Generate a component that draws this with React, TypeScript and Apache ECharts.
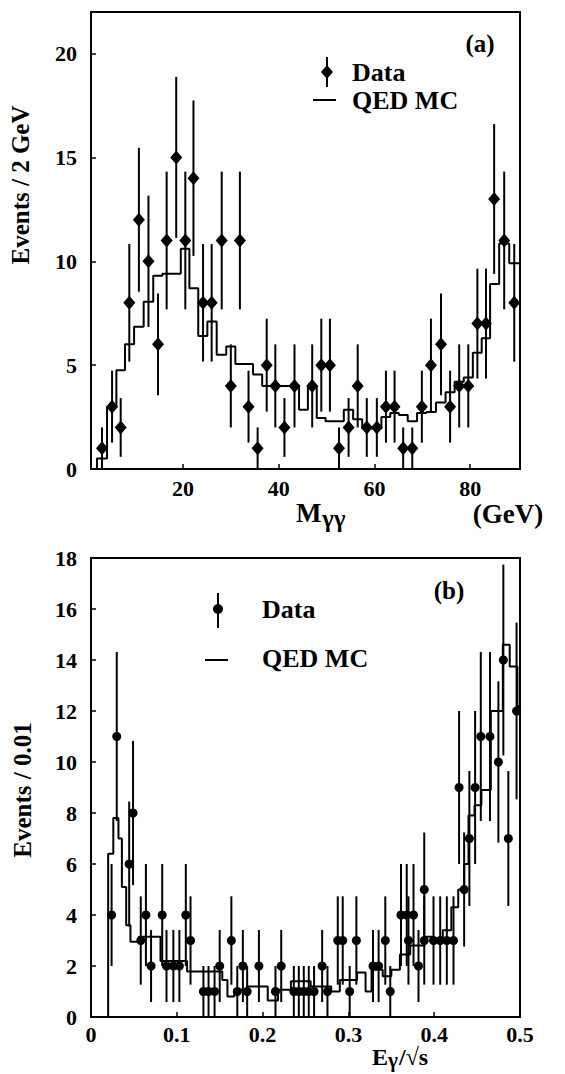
import React, { useEffect, useRef } from "react";
import * as echarts from "echarts";

// ---- Panel (a): M_gammagamma ----
const A_X = [3.1, 5.2, 7.0, 8.8, 10.8, 12.8, 14.8, 16.6, 18.6, 20.5, 22.2, 24.2, 26.0, 28.1, 30.0, 31.9, 33.7, 35.6, 37.5, 39.3, 41.2, 43.3, 45.2, 47.0, 48.9, 50.7, 52.6, 54.6, 56.5, 58.4, 60.5, 62.4, 64.2, 66.0, 67.9, 69.9, 71.8, 73.9, 75.8, 77.7, 79.6, 81.5, 83.3, 85.0, 87.1, 89.2];
const A_DATA: (number | null)[] = [1, 3, 2, 8, 12, 10, 6, 11, 15, 11, 14, 8, 8, 11, 4, 11, 3, 1, 5, 4, 2, 4, null, 4, 5, 5, 1, 2, 4, 2, 2, 3, 3, 1, 1, 3, 5, 6, 3, 4, 4, 7, 7, 13, 11, 8];
const A_MC = [0.5, 3.0, 4.75, 6.0, 6.85, 8.05, 9.3, 9.4, 9.4, 10.6, 8.7, 6.4, 7.1, 5.5, 5.9, 5.05, 5.05, 4.55, 4.0, 4.0, 4.0, 4.0, 2.85, 4.0, 2.45, 2.3, 2.3, 2.85, 2.4, 1.95, 1.95, 2.5, 2.7, 2.6, 2.3, 2.7, 2.75, 3.2, 3.7, 4.2, 4.4, 5.6, 6.3, 8.9, 10.85, 9.9];
const A_X_TICKS = [20, 40, 60, 80];
const A_Y_TICKS = [0, 5, 10, 15, 20];

// ---- Panel (b): E_gamma / sqrt(s) ----
const B_X = [0.024, 0.030, 0.0445, 0.049, 0.058, 0.064, 0.070, 0.083, 0.088, 0.096, 0.103, 0.1105, 0.116, 0.131, 0.137, 0.144, 0.150, 0.1636, 0.1705, 0.177, 0.182, 0.1957, 0.215, 0.2217, 0.2364, 0.2422, 0.248, 0.2538, 0.260, 0.2694, 0.2756, 0.2876, 0.2934, 0.3015, 0.3093, 0.3287, 0.3352, 0.343, 0.3488, 0.3613, 0.368, 0.370, 0.3759, 0.3817, 0.3884, 0.3884, 0.3992, 0.407, 0.4147, 0.4225, 0.429, 0.4349, 0.441, 0.4477, 0.4543, 0.465, 0.4748, 0.4806, 0.4864, 0.496];
const B_DATA = [4, 11, 6, 8, 3, 4, 2, 4, 2, 2, 2, 4, 3, 1, 1, 1, 2, 3, 1, 2, 1, 2, 1, 2, 1, 1, 1, 1, 1, 2, 1, 3, 3, 1, 3, 2, 2, 3, 1, 4, 4, 3, 4, 2, 5, 3, 3, 3, 3, 3, 9, 5, 7, 9, 11, 11, 10, 14, 7, 12];
const B_MC_EDGES = [0.020, 0.026, 0.032, 0.036, 0.041, 0.046, 0.056, 0.081, 0.112, 0.153, 0.159, 0.167, 0.182, 0.206, 0.218, 0.233, 0.256, 0.280, 0.290, 0.310, 0.320, 0.327, 0.340, 0.350, 0.360, 0.372, 0.388, 0.400, 0.410, 0.420, 0.428, 0.435, 0.440, 0.447, 0.455, 0.466, 0.480, 0.488, 0.497, 0.500];
const B_MC = [6.4, 7.8, 7.0, 5.1, 3.6, 2.95, 3.15, 2.2, 1.78, 1.45, 0.8, 1.07, 1.2, 0.65, 1.07, 1.4, 1.2, 1.0, 1.45, 1.75, 1.0, 1.85, 1.6, 1.85, 2.45, 2.8, 3.15, 3.0, 3.4, 4.3, 5.0, 6.0, 7.9, 8.3, 8.9, 12.0, 14.6, 13.75, 12.2];

const FONT = "'Liberation Serif', 'DejaVu Serif', serif";

function edgesFromCenters(c: number[]): number[] {
  const e: number[] = [c[0] - (c[1] - c[0]) / 2];
  for (let i = 1; i < c.length; i++) e.push((c[i - 1] + c[i]) / 2);
  e.push(c[c.length - 1] + (c[c.length - 1] - c[c.length - 2]) / 2);
  return e;
}
function stepData(edges: number[], vals: number[]) {
  const d: number[][] = [[edges[0], 0]];
  vals.forEach((v, i) => d.push([edges[i], v]));
  d.push([edges[edges.length - 1], vals[vals.length - 1]]);
  return d;
}
function pts(xs: number[], ys: (number | null)[]) {
  const out: number[][] = [];
  xs.forEach((x, i) => {
    const y = ys[i];
    if (y !== null && y !== undefined) out.push([x, y, Math.sqrt(y)]);
  });
  return out;
}

const errRender = (params: any, api: any) => {
  const x = api.value(0), y = api.value(1), e = api.value(2);
  const p1 = api.coord([x, Math.max(0, y - e)]);
  const p2 = api.coord([x, y + e]);
  return {
    type: "line",
    shape: { x1: p1[0], y1: p1[1], x2: p2[0], y2: p2[1] },
    style: { stroke: "#000", lineWidth: 2 },
  };
};

export default function App() {
  const ref = useRef<HTMLDivElement>(null);
  useEffect(() => {
    if (!ref.current) return;
    const chart = echarts.init(ref.current, null, { renderer: "svg" });
    const aPts = pts(A_X, A_DATA);
    const bPts = pts(B_X, B_DATA);
    const aStep = stepData(edgesFromCenters(A_X), A_MC);
    const bStep = stepData(B_MC_EDGES, B_MC);
    const labelStyle = { fontFamily: FONT, fontSize: 22, fontWeight: "bold", color: "#000" };
    const tick = { show: true, inside: true, length: 5, lineStyle: { color: "#000", width: 1.5 } };
    const txt = (x: number, y: number, text: string, size: number, align = "left", extra: any = {}) => ({
      type: "text",
      x,
      y,
      style: { text, font: `bold ${size}px ${FONT}`, fill: "#000", align, verticalAlign: "middle" },
      ...extra,
    });
    chart.setOption({
      animation: false,
      backgroundColor: "#fff",
      grid: [
        { left: 91, right: 45, top: 12, height: 457, show: true, borderColor: "#000", borderWidth: 2 },
        { left: 91, right: 45, top: 558, height: 459, show: true, borderColor: "#000", borderWidth: 2 },
      ],
      xAxis: [
        {
          gridIndex: 0, type: "value", min: 0.8, max: 90.4,
          axisLine: { show: false }, splitLine: { show: false },
          axisTick: { ...tick, customValues: A_X_TICKS },
          axisLabel: { ...labelStyle, margin: 8, customValues: A_X_TICKS },
        },
        {
          gridIndex: 1, type: "value", min: 0, max: 0.5, interval: 0.1,
          axisLine: { show: false }, splitLine: { show: false },
          axisTick: tick,
          axisLabel: { ...labelStyle, margin: 6, formatter: (v: number) => (v === 0 ? "0" : String(Math.round(v * 10) / 10)) },
        },
      ],
      yAxis: [
        {
          gridIndex: 0, type: "value", min: 0, max: 22,
          axisLine: { show: false }, splitLine: { show: false },
          axisTick: { ...tick, customValues: A_Y_TICKS },
          axisLabel: { ...labelStyle, margin: 14, customValues: A_Y_TICKS },
        },
        {
          gridIndex: 1, type: "value", min: 0, max: 18, interval: 2,
          axisLine: { show: false }, splitLine: { show: false },
          axisTick: tick,
          axisLabel: { ...labelStyle, margin: 14 },
        },
      ],
      series: [
        {
          type: "line", xAxisIndex: 0, yAxisIndex: 0, data: aStep, step: "end",
          showSymbol: false, lineStyle: { color: "#000", width: 2 }, silent: true,
        },
        {
          type: "custom", xAxisIndex: 0, yAxisIndex: 0, data: aPts, renderItem: errRender,
        },
        {
          type: "scatter", xAxisIndex: 0, yAxisIndex: 0, data: aPts, symbol: "diamond",
          symbolSize: [12, 14], itemStyle: { color: "#000", opacity: 1 },
        },
        {
          type: "line", xAxisIndex: 1, yAxisIndex: 1, data: bStep, step: "end",
          showSymbol: false, lineStyle: { color: "#000", width: 2 }, silent: true,
        },
        {
          type: "custom", xAxisIndex: 1, yAxisIndex: 1, data: bPts, renderItem: errRender,
        },
        {
          type: "scatter", xAxisIndex: 1, yAxisIndex: 1, data: bPts, symbol: "circle",
          symbolSize: 9, itemStyle: { color: "#000", opacity: 1 },
        },
      ],
      graphic: [
        // panel (a)
        txt(20, 185, "Events / 2 GeV", 25, "center", { rotation: Math.PI / 2 }),
        txt(480, 43, "(a)", 25, "center"),
        { type: "line", shape: { x1: 327, y1: 57, x2: 327, y2: 87 }, style: { stroke: "#000", lineWidth: 2 } },
        { type: "polygon", shape: { points: [[327, 65], [333, 72], [327, 79], [321, 72]] }, style: { fill: "#000" } },
        txt(352, 72, "Data", 26),
        { type: "line", shape: { x1: 313, y1: 100, x2: 336, y2: 100 }, style: { stroke: "#000", lineWidth: 2 } },
        txt(352, 100, "QED MC", 26),
        txt(296, 513, "M", 27),
        txt(322, 518, "γγ", 25),
        txt(508, 514, "(GeV)", 27, "center"),
        // panel (b)
        txt(22, 790, "Events / 0.01", 25, "center", { rotation: Math.PI / 2 }),
        txt(449, 590, "(b)", 25, "center"),
        { type: "line", shape: { x1: 218, y1: 593, x2: 218, y2: 628 }, style: { stroke: "#000", lineWidth: 2 } },
        { type: "circle", shape: { cx: 218, cy: 609, r: 5 }, style: { fill: "#000" } },
        txt(262, 609, "Data", 26),
        { type: "line", shape: { x1: 205, y1: 660, x2: 228, y2: 660 }, style: { stroke: "#000", lineWidth: 2 } },
        txt(262, 658, "QED MC", 26),
        txt(372, 1057, "E", 24),
        txt(388, 1060, "γ", 21),
        txt(399, 1057, "/√s", 24),
      ],
    });
    return () => chart.dispose();
  }, []);
  return (
    <div
      ref={ref}
      style={{ position: "absolute", left: 0, top: 0, width: 565, height: 1074, background: "#fff" }}
    />
  );
}
